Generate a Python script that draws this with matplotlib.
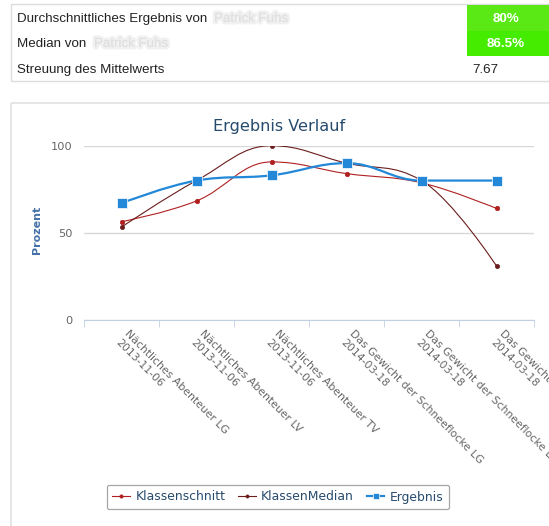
import numpy as np
import matplotlib as mpl
mpl.use('agg')
import matplotlib.pyplot as plt
from matplotlib.path import Path
from matplotlib.patches import PathPatch, Rectangle
from matplotlib.lines import Line2D
import matplotlib.patheffects as pe

# Data

categories = ['Nächtliches Abenteuer LG\n2013-11-06',
              'Nächtliches Abenteuer LV\n2013-11-06',
              'Nächtliches Abenteuer TV\n2013-11-06',
              'Das Gewicht der Schneeflocke LG\n2014-03-18',
              'Das Gewicht der Schneeflocke LV\n2014-03-18',
              'Das Gewicht der Schneeflocke TV\n2014-03-18']
klassenschnitt = [56.4, 68.3, 90.7, 84.0, 78.7, 64.0]
klassenmedian = [53.3, 80.0, 100.0, 90.0, 80.0, 31.0]
ergebnis = [67.0, 80.0, 83.0, 90.0, 80.0, 80.0]

table_labels = ['Durchschnittliches Ergebnis von', 'Median von',
                'Streuung des Mittelwerts']
table_values = ['80%', '86.5%', '7.67']
hidden_name = 'Patrick Fuhs'

W, H = 549, 526
fig = plt.figure(figsize=(W / 100, H / 100), dpi=100)

# Overlay axes in pixel coordinates for the table and the boxes.
bg = fig.add_axes([0, 0, 1, 1])
bg.set_xlim(0, W)
bg.set_ylim(H, 0)
bg.axis('off')

tfont = 'Liberation Sans'
tsize = 9.6
bg.add_patch(Rectangle((11, 4), 560, 77, fill=False, ec='#dddddd', lw=1))
bg.add_patch(Rectangle((467, 5), 90, 26, fc='#5ae914', ec='none'))
bg.add_patch(Rectangle((467, 31), 90, 25, fc='#46ec00', ec='none'))
row_y = [19, 44, 70]
for lab, y in zip(table_labels, row_y):
    bg.text(17, y, lab, family=tfont, fontsize=tsize, color='#222222',
            va='center', ha='left')
# the name is blurred out in the reference
name_x = [214, 94]
for x, y in zip(name_x, row_y[:2]):
    bg.text(x, y, hidden_name, family=tfont, fontsize=tsize, color='#e0e0e0',
            va='center', ha='left',
            path_effects=[pe.withStroke(linewidth=3.5, foreground='#f1f1f1'),
                          pe.Normal()])
bg.text(506, row_y[0], table_values[0], family=tfont, fontsize=tsize,
        color='white', weight='bold', va='center', ha='center')
bg.text(506, row_y[1], table_values[1], family=tfont, fontsize=tsize,
        color='white', weight='bold', va='center', ha='center')
bg.text(472, row_y[2], table_values[2], family=tfont, fontsize=tsize,
        color='#222222', va='center', ha='left')

# Chart container
bg.add_patch(Rectangle((11, 103), 560, 440, fill=False, ec='#e2e2e2', lw=1.2))
bg.text(279, 127, 'Ergebnis Verlauf', fontsize=11.6, color='#274b6d',
        ha='center', va='center')
bg.text(37, 230, 'Prozent', fontsize=8, color='#4572a7', weight='bold',
        rotation=90, ha='center', va='center')

# Plot area
left, right, top, bottom = 84, 534, 145.7, 320
ax = fig.add_axes([left / W, 1 - bottom / H, (right - left) / W,
                   (bottom - top) / H])
ax.set_facecolor('none')
ax.set_xlim(-0.5, 5.5)
ax.set_ylim(0, 100)
for s in ['top', 'right', 'left']:
    ax.spines[s].set_visible(False)
ax.spines['bottom'].set_color('#c0d0e0')
ax.set_yticks([0, 50, 100])
ax.yaxis.grid(True, color='#d8d8d8', lw=1)
ax.set_axisbelow(True)
ax.tick_params(axis='y', length=0, pad=8, labelsize=8.2, labelcolor='#666666')
ax.set_xticks(range(len(categories)))
ax.set_xticklabels(categories, rotation=-45, ha='left', va='center',
                   rotation_mode='anchor', fontsize=7.8, color='#666666',
                   linespacing=1.35)
ax.tick_params(axis='x', which='major', length=0, pad=12)
ax.set_xticks(np.arange(-0.5, 6, 1), minor=True)
ax.tick_params(axis='x', which='minor', length=5, color='#c0d0e0')


def hc_spline(xs, ys):
    # Highcharts-style spline through the points as cubic Bezier segments
    n = len(xs)
    lc = [None] * n
    rc = [None] * n
    for i in range(1, n - 1):
        x, y = xs[i], ys[i]
        lx, ly = xs[i - 1], ys[i - 1]
        nx, ny = xs[i + 1], ys[i + 1]
        lcx = (1.5 * x + lx) / 2.5
        lcy = (1.5 * y + ly) / 2.5
        rcx = (1.5 * x + nx) / 2.5
        rcy = (1.5 * y + ny) / 2.5
        corr = (rcy - lcy) * (rcx - x) / (rcx - lcx) + y - rcy
        lcy += corr
        rcy += corr
        if lcy > ly and lcy > y:
            lcy = max(ly, y)
            rcy = 2 * y - lcy
        elif lcy < ly and lcy < y:
            lcy = min(ly, y)
            rcy = 2 * y - lcy
        if rcy > ny and rcy > y:
            rcy = max(ny, y)
            lcy = 2 * y - rcy
        elif rcy < ny and rcy < y:
            rcy = min(ny, y)
            lcy = 2 * y - rcy
        lc[i] = (lcx, lcy)
        rc[i] = (rcx, rcy)
    verts = [(xs[0], ys[0])]
    codes = [Path.MOVETO]
    for i in range(1, n):
        c1 = rc[i - 1] or (xs[i - 1], ys[i - 1])
        c2 = lc[i] or (xs[i], ys[i])
        verts += [c1, c2, (xs[i], ys[i])]
        codes += [Path.CURVE4] * 3
    return Path(verts, codes)


xs = list(range(len(categories)))
series = [
    ('Klassenschnitt', klassenschnitt, '#b02020', 0.8, 'o', 3.2, 3),
    ('KlassenMedian', klassenmedian, '#6b1c1c', 0.8, 'o', 3.0, 4),
    ('Ergebnis', ergebnis, '#2388d8', 1.6, 's', 6.5, 5),
]
handles = []
for name, vals, col, lw, mk, ms, z in series:
    ax.add_patch(PathPatch(hc_spline(xs, vals), fc='none', ec=col, lw=lw,
                           zorder=z))
    ax.plot(xs, vals, ls='none', marker=mk, ms=ms, color=col,
            mec='white' if mk == 's' else col, mew=0.5, zorder=z + 0.5)
    handles.append(Line2D([], [], color=col, lw=lw, marker=mk, ms=ms * 0.75,
                          mec='white' if mk == 's' else col, mew=0.5,
                          label=name))

leg = fig.legend(handles=handles, loc='center',
                 bbox_to_anchor=(278 / W, 1 - 497 / H), ncol=3,
                 frameon=True, fancybox=True, edgecolor='#909090',
                 fontsize=8.9, handlelength=1.4, handletextpad=0.45,
                 columnspacing=1.05, borderpad=0.45)
leg.get_frame().set_linewidth(0.9)
for t in leg.get_texts():
    t.set_color('#274b6d')

fig.savefig('out.png', dpi=100)
